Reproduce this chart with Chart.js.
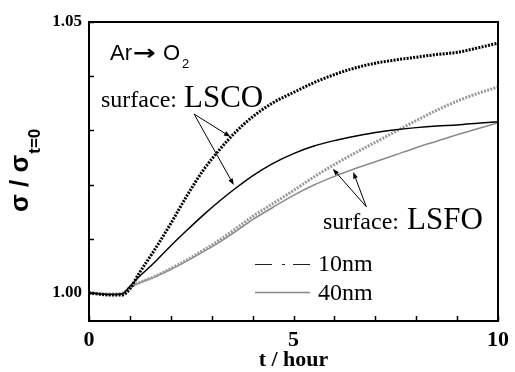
<!DOCTYPE html>
<html>
<head>
<meta charset="utf-8">
<script src="https://cdn.jsdelivr.net/npm/chart.js@4.4.0/dist/chart.umd.min.js"></script>
<style>
html,body{margin:0;padding:0;background:#fff}
#wrap{width:515px;height:372px}
</style>
</head>
<body>
<div id="wrap"><canvas id="c" width="515" height="372"></canvas></div>
<script>
// time axis (hours) and sigma / sigma(t=0) for each film
var hours  = [0, 0.5, 0.8, 1.0, 1.2, 1.6, 2.0, 2.4, 2.8, 3.2, 3.6, 4.0, 4.5, 5.0, 5.5, 6.0, 6.5, 7.0, 7.5, 8.0, 8.5, 9.0, 9.5, 10]
var lsco10 = [1.0000, 0.9996, 0.9996, 1.0007, 1.0033, 1.0079, 1.0128, 1.0180, 1.0227, 1.0265, 1.0298, 1.0325, 1.0351, 1.0370, 1.0388, 1.0403, 1.0415, 1.0424, 1.0430, 1.0435, 1.0440, 1.0444, 1.0452, 1.0461]
var lsco40 = [1.0000, 0.9997, 0.9998, 1.0012, 1.0028, 1.0056, 1.0087, 1.0116, 1.0144, 1.0170, 1.0194, 1.0216, 1.0239, 1.0257, 1.0271, 1.0281, 1.0289, 1.0296, 1.0301, 1.0305, 1.0308, 1.0310, 1.0313, 1.0316]
var lsfo10 = [1.0000, 0.9998, 0.9999, 1.0010, 1.0018, 1.0030, 1.0045, 1.0061, 1.0079, 1.0098, 1.0119, 1.0141, 1.0165, 1.0189, 1.0214, 1.0237, 1.0258, 1.0278, 1.0298, 1.0318, 1.0337, 1.0354, 1.0368, 1.0380]
var lsfo40 = [1.0000, 0.9998, 0.9999, 1.0009, 1.0017, 1.0029, 1.0043, 1.0059, 1.0076, 1.0094, 1.0114, 1.0135, 1.0158, 1.0180, 1.0199, 1.0215, 1.0229, 1.0242, 1.0255, 1.0268, 1.0280, 1.0292, 1.0303, 1.0314]

var xTicks = [0, 1, 2, 3, 4, 5, 6, 7, 8, 9, 10]
var xTickLabels = ['0', '', '', '', '', '5', '', '', '', '', '10']
var yTicks = [1.00, 1.01, 1.02, 1.03, 1.04, 1.05]
var yTickLabels = ['1.00', '', '', '', '', '1.05']

var SERIF = "'Liberation Serif', 'Times New Roman', serif"
var SANS = "'Liberation Sans', Arial, sans-serif"

function pts(ys){
    var out = []
    for(var i in hours){
        out.push({x: hours[i], y: ys[i]})
    }
    return out
}

function arrow(ctx, x0, y0, x1, y1){
    var a = Math.atan2(y1 - y0, x1 - x0), L = 7, w = 0.35
    ctx.beginPath()
    ctx.moveTo(x0, y0)
    ctx.lineTo(x1 - Math.cos(a) * 3, y1 - Math.sin(a) * 3)
    ctx.stroke()
    ctx.beginPath()
    ctx.moveTo(x1, y1)
    ctx.lineTo(x1 - L * Math.cos(a - w), y1 - L * Math.sin(a - w))
    ctx.lineTo(x1 - L * Math.cos(a + w), y1 - L * Math.sin(a + w))
    ctx.closePath()
    ctx.fill()
}

var decor = {
    id: 'decor',
    afterDraw: function(chart){
        var ctx = chart.ctx, a = chart.chartArea
        var xs = chart.scales.x, ys = chart.scales.y
        function px(t){ return xs.getPixelForValue(t) }
        function py(v){ return ys.getPixelForValue(v) }
        ctx.save()
        ctx.strokeStyle = '#000'
        ctx.fillStyle = '#000'
        // frame
        ctx.lineWidth = 2
        ctx.strokeRect(a.left, a.top, a.right - a.left, a.bottom - a.top)
        // inward ticks
        ctx.lineWidth = 1.5
        xTicks.forEach(function(t){
            var x = Math.round(px(t)) + 0.5
            ctx.beginPath(); ctx.moveTo(x, a.bottom); ctx.lineTo(x, a.bottom - 5); ctx.stroke()
        })
        yTicks.forEach(function(v){
            var y = Math.round(py(v)) + 0.5
            ctx.beginPath(); ctx.moveTo(a.left, y); ctx.lineTo(a.left + 5, y); ctx.stroke()
        })

        // y title: sigma / sigma_t=0
        ctx.save()
        ctx.translate(28, 212)
        ctx.rotate(-Math.PI / 2)
        ctx.font = 'bold 26px ' + SANS
        ctx.textAlign = 'left'
        ctx.textBaseline = 'alphabetic'
        ctx.fillText('σ / σ', 0, 0)
        var w = ctx.measureText('σ / σ').width
        ctx.font = 'bold 17px ' + SANS
        ctx.fillText('t=0', w + 1, 12)
        ctx.restore()

        // Ar -> O2
        ctx.textBaseline = 'alphabetic'
        ctx.textAlign = 'left'
        ctx.font = '22px ' + SANS
        ctx.fillText('Ar', 110, 60)
        ctx.save()
        ctx.translate(133, 60)
        ctx.scale(1.3, 1)
        ctx.font = 'bold 21px "DejaVu Sans"'
        ctx.fillText('→', 0, 0)
        ctx.restore()
        ctx.font = '22px ' + SANS
        ctx.fillText('O', 163, 60)
        ctx.font = '13px ' + SANS
        ctx.fillText('2', 182, 68)

        // surface labels
        ctx.font = '24px ' + SERIF
        ctx.fillText('surface:', 101, 107)
        ctx.font = '31px ' + SERIF
        ctx.fillText('LSCO', 184, 107)
        ctx.font = '24px ' + SERIF
        ctx.fillText('surface:', 323, 229)
        ctx.font = '31px ' + SERIF
        ctx.fillText('LSFO', 407, 229)

        // pointer arrows
        ctx.lineWidth = 1
        arrow(ctx, px(2.57), py(1.0330), px(3.46), py(1.0288))
        arrow(ctx, px(2.57), py(1.0330), px(3.54), py(1.0199))
        arrow(ctx, px(6.78), py(1.0159), px(5.96), py(1.0229))
        arrow(ctx, px(6.78), py(1.0159), px(6.46), py(1.0223))

        // legend
        ctx.strokeStyle = '#222'
        ctx.lineWidth = 1.2
        ctx.beginPath()
        ctx.moveTo(255, 264.5); ctx.lineTo(272, 264.5)
        ctx.moveTo(282, 264.5); ctx.lineTo(285, 264.5)
        ctx.moveTo(293, 264.5); ctx.lineTo(310, 264.5)
        ctx.stroke()
        ctx.strokeStyle = '#888'
        ctx.lineWidth = 1.5
        ctx.beginPath(); ctx.moveTo(255, 292.5); ctx.lineTo(310, 292.5); ctx.stroke()
        ctx.font = '24px ' + SERIF
        ctx.fillText('10nm', 318, 271)
        ctx.fillText('40nm', 318, 300)
        ctx.restore()
    }
}

var chart = new Chart(document.getElementById('c').getContext('2d'), {
    type: 'line',
    data: {
        datasets: [
            {label: 'LSCO 10nm', data: pts(lsco10), borderColor: '#000', borderWidth: 3, borderDash: [2, 1.3]},
            {label: 'LSCO 40nm', data: pts(lsco40), borderColor: '#000', borderWidth: 1.5},
            {label: 'LSFO 10nm', data: pts(lsfo10), borderColor: '#9a9a9a', borderWidth: 3, borderDash: [2, 1.3]},
            {label: 'LSFO 40nm', data: pts(lsfo40), borderColor: '#8a8a8a', borderWidth: 1.5}
        ]
    },
    options: {
        responsive: false,
        animation: false,
        devicePixelRatio: 1,
        layout: {padding: {top: 22, right: 13, left: 0, bottom: 0}},
        elements: {
            point: {radius: 0},
            line: {cubicInterpolationMode: 'monotone', fill: false}
        },
        plugins: {legend: {display: false}, tooltip: {enabled: false}},
        scales: {
            x: {
                type: 'linear', min: 0, max: 10,
                afterFit: function(s){ s.height = 51 },
                afterBuildTicks: function(s){ s.ticks = xTicks.map(function(v){ return {value: v} }) },
                grid: {display: false, drawTicks: false},
                border: {display: true, color: '#000', width: 2},
                ticks: {
                    padding: 6, color: '#000', maxRotation: 0, autoSkip: false,
                    font: {family: SERIF, size: 22, weight: 'bold'},
                    callback: function(v, i){ return xTickLabels[i] }
                },
                title: {
                    display: true, text: 't / hour', color: '#000',
                    font: {family: SERIF, size: 22, weight: 'bold'},
                    padding: {top: 0, bottom: -2}
                }
            },
            y: {
                type: 'linear', min: 0.9948, max: 1.05,
                afterFit: function(s){ s.width = 89 },
                afterBuildTicks: function(s){ s.ticks = yTicks.map(function(v){ return {value: v} }) },
                grid: {display: false, drawTicks: false},
                border: {display: true, color: '#000', width: 2},
                ticks: {
                    padding: 7, color: '#000', autoSkip: false,
                    font: {family: SERIF, size: 17, weight: 'bold'},
                    callback: function(v, i){ return yTickLabels[i] }
                }
            }
        }
    },
    plugins: [decor]
})
</script>
</body>
</html>
